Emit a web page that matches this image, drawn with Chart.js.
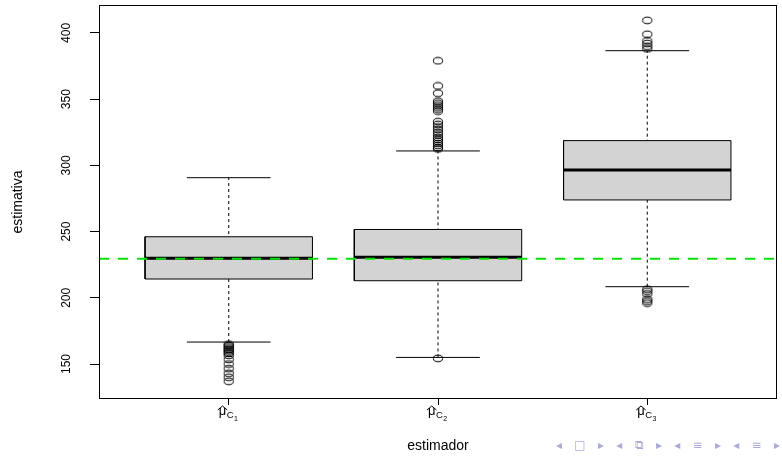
<!DOCTYPE html>
<html>
<head>
<meta charset="utf-8">
<script src="https://cdn.jsdelivr.net/npm/chart.js@4.4.0/dist/chart.umd.min.js"></script>
<style>
  html, body { margin: 0; padding: 0; background: #fff; }
  #wrap { position: relative; width: 782px; height: 457px; }
  #nav { position: absolute; left: 556px; top: 438px; width: 224px; display: flex; justify-content: space-between;
         font: 12px "DejaVu Sans", sans-serif; color: #aaaadc; }
</style>
</head>
<body>
<div id="wrap">
  <canvas id="boxChart" width="782" height="457"></canvas>
  <div id="nav"><span>◂</span><span>□</span><span>▸</span><span>◂</span><span>⧉</span><span>▸</span><span>◂</span><span>≡</span><span>▸</span><span>◂</span><span>≡</span><span>▸</span></div>
</div>
<script>
// estimators mu-hat_{C_k}, k = 1..3
const estimatorSubscripts = ["1", "2", "3"];

// boxplot statistics
const lowerWhisker  = [166.6, 155.0, 208.4];
const lowerQuartile = [214.2, 212.9, 273.9];
const medians       = [229.8, 230.6, 296.5];
const upperQuartile = [246.1, 251.6, 318.7];
const upperWhisker  = [290.7, 310.9, 386.6];

const outliersC1 = [165, 164, 163, 162, 161, 160, 159, 158, 156.5, 153.5, 150, 146.5, 143, 140, 137];
const outliersC2 = [379, 360, 354.5, 348.5, 347, 345.5, 344, 342.5, 341, 333, 331, 329, 327, 325,
                    323, 321, 319.5, 318, 316.5, 315, 313.5, 312.5, 154.3];
const outliersC3 = [409.5, 399, 394, 392, 390, 388, 206.5, 205, 203, 199, 197.5, 196];

const referenceValue = 229.5;   // green dashed line
const yTicks = [150, 200, 250, 300, 350, 400];

const outliers = [outliersC1, outliersC2, outliersC3];
const boxHalf = 0.4, capHalf = 0.2;
const FONT = '"Liberation Sans", Arial, sans-serif';

// open ring, a bit wider than tall like in the figure
function ringImage() {
    const c = document.createElement("canvas");
    c.width = 12; c.height = 9;
    const g = c.getContext("2d");
    g.strokeStyle = "#000";
    g.lineWidth = 1;
    g.beginPath();
    g.ellipse(6, 4.5, 4.6, 3.3, 0, 0, Math.PI * 2);
    g.stroke();
    return c;
}
const ring = ringImage();

const datasets = [];
estimatorSubscripts.forEach((s, i) => {
    const p = i + 1;
    datasets.push({
        data: [{x: p, y: lowerWhisker[i]}, {x: p, y: upperWhisker[i]}],
        borderColor: "#000", borderWidth: 1, borderDash: [3, 3], pointRadius: 0, order: 6
    });
    [lowerWhisker[i], upperWhisker[i]].forEach(v => {
        datasets.push({
            data: [{x: p - capHalf, y: v}, {x: p + capHalf, y: v}],
            borderColor: "#000", borderWidth: 1, pointRadius: 0, order: 5
        });
    });
    datasets.push({
        data: [
            {x: p - boxHalf, y: lowerQuartile[i]}, {x: p + boxHalf, y: lowerQuartile[i]},
            {x: p + boxHalf, y: upperQuartile[i]}, {x: p - boxHalf, y: upperQuartile[i]},
            {x: p - boxHalf, y: lowerQuartile[i]}
        ],
        fill: "shape", backgroundColor: "#d3d3d3",
        borderColor: "#000", borderWidth: 1, pointRadius: 0, order: 4
    });
    datasets.push({
        data: [{x: p - boxHalf, y: medians[i]}, {x: p + boxHalf, y: medians[i]}],
        borderColor: "#000", borderWidth: 3, pointRadius: 0, order: 3
    });
    datasets.push({
        data: outliers[i].map(v => ({x: p, y: v})),
        showLine: false, pointStyle: ring, pointRadius: 4, order: 2
    });
});
datasets.push({
    data: [{x: 0.38, y: referenceValue}, {x: 3.62, y: referenceValue}],
    borderColor: "#00e600", borderWidth: 2, borderDash: [10, 9], pointRadius: 0, order: 1
});

// R-like frame, tick labels with plotmath subscripts, axis titles
const rAxes = {
    id: "rAxes",
    afterDraw(chart) {
        const {ctx, chartArea: a, scales: {x, y}} = chart;
        ctx.save();
        ctx.strokeStyle = "#000";
        ctx.lineWidth = 1;
        ctx.strokeRect(a.left + 0.5, a.top + 0.5, a.right - a.left - 1, a.bottom - a.top - 1);

        ctx.fillStyle = "#000";
        ctx.font = "12px " + FONT;
        ctx.textAlign = "center";
        ctx.textBaseline = "middle";
        yTicks.forEach(v => {
            ctx.save();
            ctx.translate(a.left - 32, y.getPixelForValue(v));
            ctx.rotate(-Math.PI / 2);
            ctx.fillText(String(v), 0, 0);
            ctx.restore();
        });

        ctx.font = "14px " + FONT;
        ctx.save();
        ctx.translate(18, (a.top + a.bottom) / 2);
        ctx.rotate(-Math.PI / 2);
        ctx.fillText("estimativa", 0, 0);
        ctx.restore();
        ctx.fillText("estimador", (a.left + a.right) / 2, a.bottom + 47);

        ctx.textAlign = "left";
        ctx.textBaseline = "alphabetic";
        estimatorSubscripts.forEach((s, i) => {
            const px = x.getPixelForValue(i + 1);
            const x0 = px - 10;
            const base = a.bottom + 16;
            ctx.font = "13px " + FONT;
            ctx.fillText("μ", x0, base);
            const wMu = ctx.measureText("μ").width;
            ctx.beginPath();
            ctx.moveTo(x0 - 1, base - 5);
            ctx.lineTo(x0 + wMu / 2, base - 9);
            ctx.lineTo(x0 + wMu + 1, base - 5);
            ctx.stroke();
            ctx.font = "9.5px " + FONT;
            ctx.fillText("C", x0 + wMu + 0.5, base + 3);
            const wC = ctx.measureText("C").width;
            ctx.font = "7px " + FONT;
            ctx.fillText(s, x0 + wMu + wC + 0.8, base + 5.5);
        });
        ctx.restore();
    }
};

new Chart(document.getElementById("boxChart"), {
    type: "line",
    data: { datasets: datasets },
    options: {
        responsive: false,
        animation: false,
        devicePixelRatio: 1,
        events: [],
        layout: { padding: { left: 0, top: 5, right: 1, bottom: 0 } },
        plugins: { legend: { display: false }, tooltip: { enabled: false } },
        scales: {
            x: {
                type: "linear", min: 0.38, max: 3.62,
                border: { display: false },
                grid: { drawOnChartArea: false, drawTicks: true, tickLength: 6, color: "#000" },
                ticks: { display: false },
                afterBuildTicks: s => { s.ticks = estimatorSubscripts.map((_, i) => ({ value: i + 1 })); },
                afterFit: s => { s.height = 58; }
            },
            y: {
                type: "linear", min: 123.6, max: 421.1,
                border: { display: false },
                grid: { drawOnChartArea: false, drawTicks: true, tickLength: 9, color: "#000" },
                ticks: { display: false },
                afterBuildTicks: s => { s.ticks = yTicks.map(v => ({ value: v })); },
                afterFit: s => { s.width = 99; }
            }
        }
    },
    plugins: [rAxes]
});
</script>
</body>
</html>
